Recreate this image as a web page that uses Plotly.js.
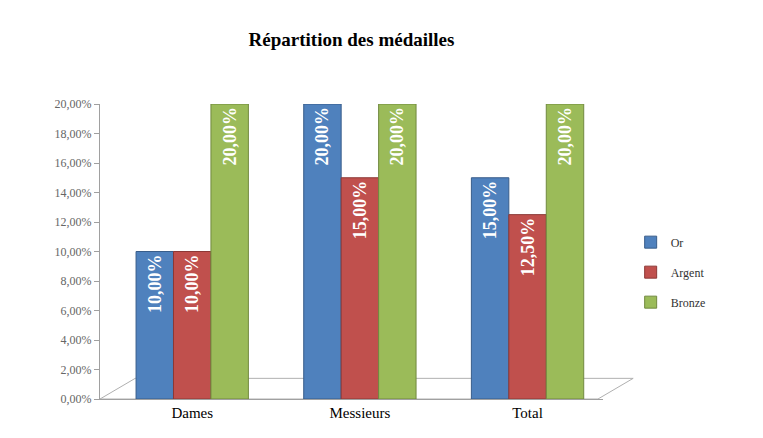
<!DOCTYPE html>
<html><head><meta charset="utf-8">
<script src="https://cdn.plot.ly/plotly-3.0.1.min.js"></script>
<style>html,body{margin:0;padding:0;background:#fff}#c{width:763px;height:438px}</style>
</head><body><div id="c"></div>
<script>
const categories = ["Dames", "Messieurs", "Total"];
const seriesNames = ["Or", "Argent", "Bronze"];
const orValues = [0.10, 0.20, 0.15];
const argentValues = [0.10, 0.15, 0.125];
const bronzeValues = [0.20, 0.20, 0.20];
const colors = ["#4F81BD", "#C0504D", "#9BBB59"];
const edgeColors = ["#385D8A", "#8C3836", "#71893F"];
const allValues = [orValues, argentValues, bronzeValues];

const traces = allValues.map((vals, i) => ({
  type: "bar",
  name: seriesNames[i],
  x: categories,
  y: vals,
  legendgroup: seriesNames[i],
  marker: {color: colors[i], line: {color: edgeColors[i], width: 1}},
  texttemplate: "%{y:.2%}",
  textposition: "inside",
  insidetextanchor: "end",
  textangle: -90,
  textfont: {family: "Liberation Serif", size: 18, color: "#ffffff", weight: "bold"},
  hoverinfo: "skip"
}));

const layout = {
  width: 763, height: 438,
  separators: ", ",
  margin: {l: 100, r: 160, t: 104, b: 39},
  paper_bgcolor: "#ffffff",
  plot_bgcolor: "rgba(0,0,0,0)",
  title: {text: "<b>Répartition des médailles</b>", x: 0.5, xref: "paper", y: 0.91, yanchor: "middle",
    font: {family: "Liberation Serif", size: 19, color: "#000"}},
  barmode: "group",
  bargap: 0.33,
  bargroupgap: 0,
  showlegend: true,
  legend: {x: 1.055, y: 0.43, yanchor: "middle", xanchor: "left", traceorder: "grouped", tracegroupgap: 11,
    font: {family: "Liberation Serif", size: 12, color: "#333"}},
  xaxis: {range: [-0.55, 2.45], showline: true, linecolor: "#a0a0a0", linewidth: 1, ticks: "", showgrid: false,
    tickfont: {family: "Liberation Serif", size: 15, color: "#000"}, fixedrange: true},
  yaxis: {range: [0, 0.2], dtick: 0.02, tickformat: ".2%", showline: true, linecolor: "#a0a0a0",
    ticks: "outside", ticklen: 5, tickcolor: "#a0a0a0", showgrid: false, zeroline: false,
    tickfont: {family: "Liberation Serif", size: 12, color: "#666"}, fixedrange: true},
  shapes: [
    {type: "path", xref: "paper", yref: "paper", path: "M 0,0 L 0.07,0.07 L 1.06,0.07 L 0.99,0 Z",
      line: {color: "#b0b0b0", width: 1}, fillcolor: "rgba(0,0,0,0)", layer: "below"}
  ]
};
Plotly.newPlot("c", traces, layout, {displayModeBar: false, staticPlot: true});
</script></body></html>
